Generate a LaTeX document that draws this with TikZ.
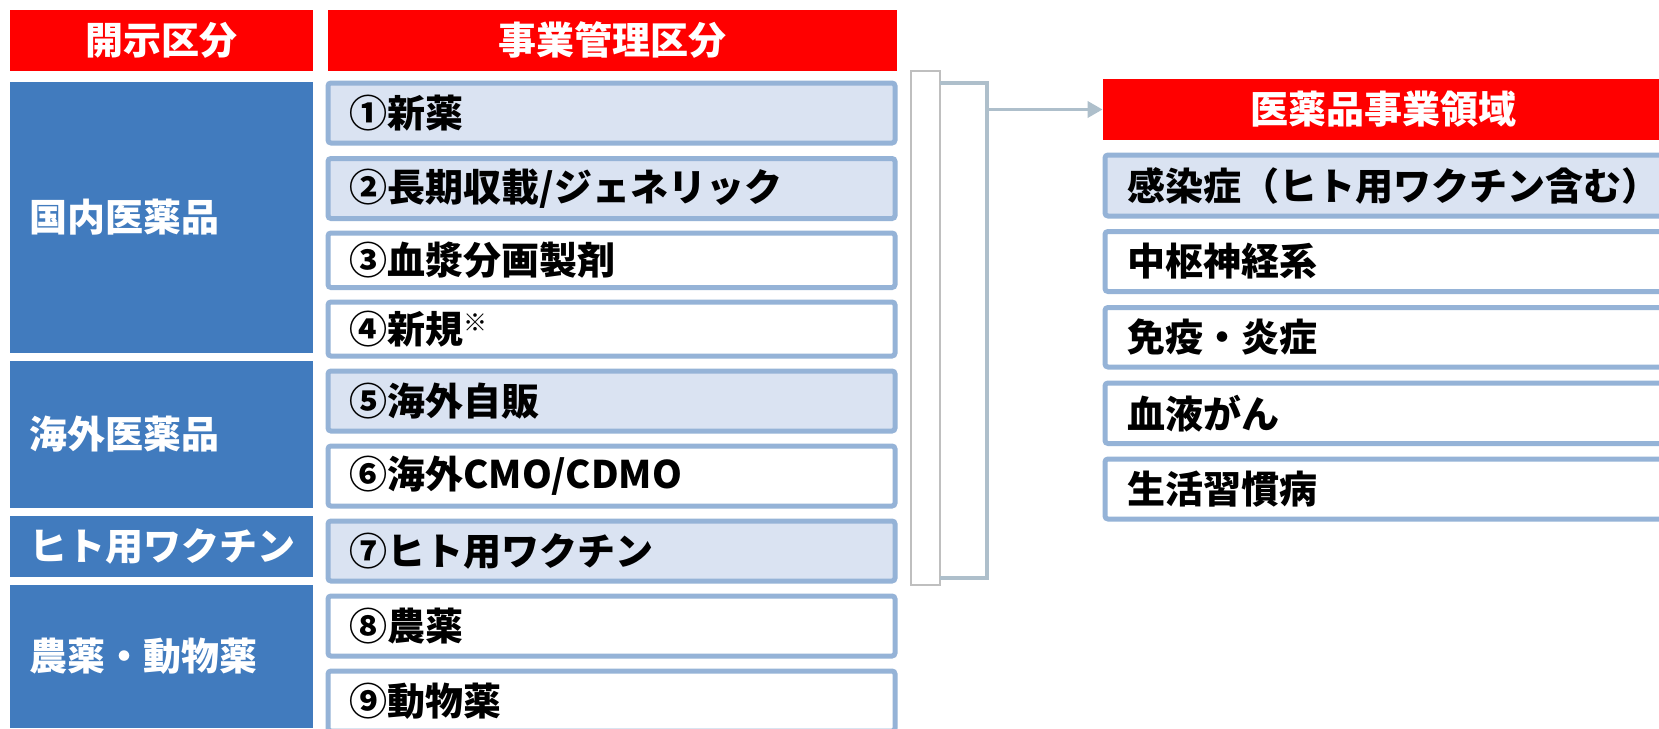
\documentclass[tikz,border=0pt]{standalone}
\usepackage{fontspec}
\setmainfont{Noto Sans CJK JP}
\usepackage{tikz}
\usetikzlibrary{arrows.meta}
\definecolor{hdred}{RGB}{255,0,0}
\definecolor{segblue}{RGB}{65,123,190}
\definecolor{boxfill}{RGB}{218,227,242}
\definecolor{boxline}{RGB}{149,179,215}
\definecolor{brkline}{RGB}{174,191,203}
\definecolor{brkgray}{RGB}{191,191,191}

\begin{document}
\begin{tikzpicture}[x=0.5pt, y=-0.5pt,
  lbl/.style={font=\fontsize{19}{19}\selectfont\bfseries, inner sep=0pt},
  hdbox/.style={lbl, fill=hdred, text=white, minimum height=30.5pt}]

% ── Rahmen ───────────────────────────────────────────────────────────
\clip (0,0) rectangle (1659,728);
\fill[white] (0,0) rectangle (1659,728);

% ── Spaltenköpfe ─────────────────────────────────────────────────────
\node[hdbox, minimum width=151.5pt] (hdL) at (161.5,40.5) {開示区分};
\node[hdbox, minimum width=284.5pt] (hdM) at (612.5,40.5) {事業管理区分};
\node[hdbox, minimum width=280pt]   (hdR) at (1383,109.5) {医薬品事業領域};

% ── Disclosure segments (blau) ───────────────────────────────────────
\foreach \i/\top/\bot/\name in {
   1/82/352.7/国内医薬品,
   2/361/507.7/海外医薬品,
   3/516/576.7/ヒト用ワクチン,
   4/585/728/農薬・動物薬}
{
  \fill[segblue] (10,\top) rectangle (313,\bot);
  \node[lbl, anchor=west, text=white] (lft\i) at (29, {(\top+\bot)/2}) {\name};
}

% ── Business segments (Mitte) ────────────────────────────────────────
\foreach \i/\top/\bot/\col/\txt in {
   1/83/143/boxfill/①新薬,
   2/158.5/218.5/boxfill/{②長期収載/ジェネリック},
   3/233/287.5/white/③血漿分画製剤,
   4/302/356/white/{④新規\raisebox{6pt}{\fontsize{12}{12}\selectfont ※}},
   5/371/431/boxfill/⑤海外自販,
   6/446/506/white/{⑥海外CMO/CDMO},
   7/521/581/boxfill/⑦ヒト用ワクチン,
   8/596/656/white/⑧農薬,
   9/671/731/white/⑨動物薬}
{
  \draw[boxline, fill=\col, line width=2.5pt, rounded corners=1.5pt]
    (328,\top) rectangle (895,\bot);
  \node[lbl, anchor=west] (mid\i) at (349, {(\top+\bot)/2}) {\txt};
}

% ── Klammer + Pfeil ──────────────────────────────────────────────────
\draw[brkgray, fill=white, line width=0.8pt] (911,71) rectangle (940,585);
\draw[brkline, line width=2pt] (940,83) -- (987,83) -- (987,578) -- (940,578);
\coordinate (brk) at (987,109.5);
\draw[brkline, line width=1.75pt, -{Triangle[length=7.5pt, width=8pt]}]
  (brk) -- (hdR.west);

% ── Therapeutic areas (rechts) ───────────────────────────────────────
\foreach \i/\top/\bot/\col/\txt in {
   1/155/216/boxfill/感染症（ヒト用ワクチン含む）,
   2/231.5/291.5/white/中枢神経系,
   3/307.5/367/white/免疫・炎症,
   4/383/443.5/white/血液がん,
   5/459/519/white/生活習慣病}
{
  \draw[boxline, fill=\col, line width=2.5pt, rounded corners=1.5pt]
    (1105,\top) rectangle (1700,\bot);
  \node[lbl, anchor=west] (rgt\i) at (1127, {(\top+\bot)/2}) {\txt};
}

\end{tikzpicture}
\end{document}
